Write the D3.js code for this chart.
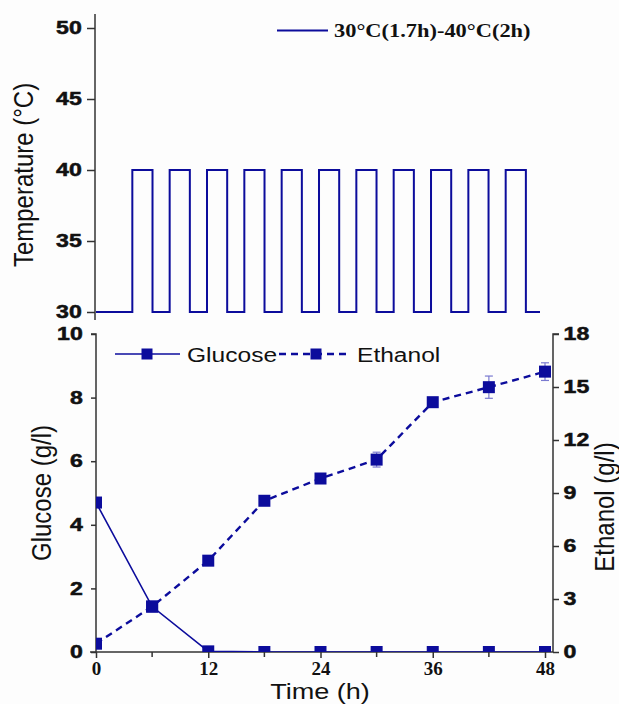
<!DOCTYPE html>
<html><head><meta charset="utf-8">
<script src="https://cdn.jsdelivr.net/npm/d3@7/dist/d3.min.js"></script>
<style>
html,body{margin:0;padding:0;background:#fdfdfd;}
svg{display:block;}
</style></head>
<body>
<svg id="chart" width="619" height="704"></svg>
<script>
// ---------- DATA ----------
const times = [0, 6, 12, 18, 24, 30, 36, 42, 48];
const glucose = [4.70, 1.43, 0.02, 0, 0, 0, 0, 0, 0];
const ethanol = [0.47, 2.57, 5.17, 8.56, 9.82, 10.89, 14.14, 14.99, 15.87];
const ethanolErr = [0.08, 0.08, 0.1, 0.1, 0.12, 0.42, 0.15, 0.63, 0.5];
const xTicks = [0, 12, 24, 36, 48];
const xMinorTicks = [6, 18, 30, 42];
const glucoseTicks = [0, 2, 4, 6, 8, 10];
const ethanolTicks = [0, 3, 6, 9, 12, 15, 18];
const tempTicks = [30, 35, 40, 45, 50];
// temperature program: switch times (h)
const tempUp   = [3.6, 7.3, 11.0, 14.7, 18.4, 22.1, 25.8, 29.5, 33.2, 36.9, 40.6];
const tempDown = [5.6, 9.3, 13.0, 16.7, 20.4, 24.1, 27.8, 31.5, 35.2, 38.9, 42.6];
const tempStart = 0, tempEnd = 44.0, tempLow = 30, tempHigh = 40;
const tempLegend = "30°C(1.7h)-40°C(2h)";
const seriesNames = ["Glucose", "Ethanol"];

// ---------- SETUP ----------
const svg = d3.select("#chart");
const blue = "#0c0c9c";
const axisColor = "#333";
const sansFont = "'Liberation Sans', Arial, sans-serif";

// temperature path points built from the listed switch times
const tempPts = [[tempStart, tempLow]];
tempUp.forEach((u, i) => {
  tempPts.push([u, tempLow], [u, tempHigh], [tempDown[i], tempHigh], [tempDown[i], tempLow]);
});
tempPts.push([tempEnd, tempLow]);

function boldTicks(sel) {
  sel.attr("font-family", sansFont).attr("font-weight", "bold").attr("font-size", 17.5)
    .attr("fill", "#111").attr("stroke", "#111").attr("stroke-width", 0.5)
    .attr("transform", "scale(1.32,1)");
}

// ---------- TOP PANEL ----------
const xT = d3.scaleLinear().domain([0, 44]).range([96, 540]);
const yT = d3.scaleLinear().domain([30, 50]).range([312, 28]);

const gTop = svg.append("g");
const axT = gTop.append("g").attr("transform", "translate(95,0)")
  .call(d3.axisLeft(yT).tickValues(tempTicks).tickSize(8).tickPadding(2));
axT.select(".domain").attr("d", "M0,14V320");
axT.selectAll("path,line").attr("stroke", axisColor).attr("stroke-width", 1.5);
boldTicks(axT.selectAll("text"));

gTop.append("path").datum(tempPts)
  .attr("d", d3.line().x(d => xT(d[0])).y(d => yT(d[1])))
  .attr("fill", "none").attr("stroke", blue).attr("stroke-width", 2);

// top legend
gTop.append("line").attr("x1", 277).attr("x2", 328).attr("y1", 30.5).attr("y2", 30.5)
  .attr("stroke", blue).attr("stroke-width", 2);
gTop.append("text").attr("transform", "translate(334,37) scale(1.18,1)")
  .attr("font-family", "'Liberation Serif','Times New Roman',serif").attr("font-weight", "bold")
  .attr("font-size", 19).attr("fill", "#111").text(tempLegend);

gTop.append("text").attr("transform", "translate(33,175) scale(1.17,1) rotate(-90)")
  .attr("text-anchor", "middle").attr("font-family", sansFont)
  .attr("font-size", 24).attr("fill", "#111").text("Temperature (°C)");

// ---------- BOTTOM PANEL ----------
const x = d3.scaleLinear().domain([0, 48]).range([96, 545]);
const yG = d3.scaleLinear().domain([0, 10]).range([652, 334]);
const yE = d3.scaleLinear().domain([0, 18]).range([652, 334]);

const gB = svg.append("g");
svg.append("defs").append("clipPath").attr("id", "plotClip")
  .append("rect").attr("x", 96).attr("y", 326).attr("width", 457).attr("height", 326);

// left axis
const axL = gB.append("g").attr("transform", "translate(96,0)")
  .call(d3.axisLeft(yG).tickValues(glucoseTicks).tickSize(5).tickPadding(5));
axL.select(".domain").attr("d", "M-5,334H0V652");
// right axis
const axR = gB.append("g").attr("transform", "translate(553,0)")
  .call(d3.axisRight(yE).tickValues(ethanolTicks).tickSize(6).tickPadding(2));
axR.select(".domain").attr("d", "M6,334H0V652");
[axL, axR].forEach(a => {
  a.selectAll("path,line").attr("stroke", axisColor).attr("stroke-width", 1.5);
  boldTicks(a.selectAll("text"));
});
// bottom axis
const axX = gB.append("g").attr("transform", "translate(0,652)")
  .call(d3.axisBottom(x).tickValues(xTicks).tickSize(6).tickPadding(4));
axX.select(".domain").attr("d", "M90,0H553");
axX.selectAll("path,line").attr("stroke", axisColor).attr("stroke-width", 1.5);
axX.selectAll("text").attr("font-family", "'Liberation Serif','Times New Roman',serif")
  .attr("font-weight", "bold").attr("font-size", 19).attr("fill", "#111");
gB.append("g").selectAll("line").data(xMinorTicks).join("line")
  .attr("x1", d => x(d)).attr("x2", d => x(d)).attr("y1", 652).attr("y2", 657)
  .attr("stroke", axisColor).attr("stroke-width", 1.5);

// axis titles
gB.append("text").attr("transform", "translate(320,699) scale(1.23,1)")
  .attr("text-anchor", "middle").attr("font-family", sansFont)
  .attr("font-size", 22).attr("fill", "#111").text("Time (h)");
gB.append("text").attr("transform", "translate(51,493) scale(1.17,1) rotate(-90)")
  .attr("text-anchor", "middle").attr("font-family", sansFont)
  .attr("font-size", 24).attr("fill", "#111").text("Glucose (g/l)");
gB.append("text").attr("transform", "translate(614,507) scale(1.17,1) rotate(-90)")
  .attr("text-anchor", "middle").attr("font-family", sansFont)
  .attr("font-size", 24).attr("fill", "#111").text("Ethanol (g/l)");

// data
const plot = gB.append("g").attr("clip-path", "url(#plotClip)");
const gData = times.map((t, i) => ({t, v: glucose[i]}));
const eData = times.map((t, i) => ({t, v: ethanol[i], e: ethanolErr[i]}));

plot.append("path").datum(gData)
  .attr("d", d3.line().x(d => x(d.t)).y(d => yG(d.v)))
  .attr("fill", "none").attr("stroke", blue).attr("stroke-width", 1.6);
plot.append("path").datum(eData)
  .attr("d", d3.line().x(d => x(d.t)).y(d => yE(d.v)))
  .attr("fill", "none").attr("stroke", blue).attr("stroke-width", 2.4)
  .attr("stroke-dasharray", "7,5");

// error bars
const eb = plot.append("g").attr("stroke", "#7a7ad0").attr("stroke-width", 1.2);
eData.forEach(d => {
  eb.append("line").attr("x1", x(d.t)).attr("x2", x(d.t)).attr("y1", yE(d.v - d.e)).attr("y2", yE(d.v + d.e));
  eb.append("line").attr("x1", x(d.t) - 4).attr("x2", x(d.t) + 4).attr("y1", yE(d.v - d.e)).attr("y2", yE(d.v - d.e));
  eb.append("line").attr("x1", x(d.t) - 4).attr("x2", x(d.t) + 4).attr("y1", yE(d.v + d.e)).attr("y2", yE(d.v + d.e));
});

const ms = 12;
plot.append("g").selectAll("rect").data(gData).join("rect")
  .attr("x", d => x(d.t) - ms / 2).attr("y", d => yG(d.v) - ms / 2)
  .attr("width", ms).attr("height", ms).attr("fill", blue);
plot.append("g").selectAll("rect").data(eData).join("rect")
  .attr("x", d => x(d.t) - ms / 2).attr("y", d => yE(d.v) - ms / 2)
  .attr("width", ms).attr("height", ms).attr("fill", blue);

// legend
const lg = gB.append("g");
lg.append("line").attr("x1", 115).attr("x2", 180).attr("y1", 354).attr("y2", 354)
  .attr("stroke", blue).attr("stroke-width", 1.6);
lg.append("rect").attr("x", 147 - 5.5).attr("y", 354 - 5.5).attr("width", 11).attr("height", 11).attr("fill", blue);
lg.append("text").attr("transform", "translate(187,362) scale(1.17,1)")
  .attr("font-family", sansFont).attr("font-size", 21)
  .attr("fill", "#111").text(seriesNames[0]);
lg.append("line").attr("x1", 279).attr("x2", 350).attr("y1", 354).attr("y2", 354)
  .attr("stroke", blue).attr("stroke-width", 2.4).attr("stroke-dasharray", "7,5");
lg.append("rect").attr("x", 316 - 5.5).attr("y", 354 - 5.5).attr("width", 11).attr("height", 11).attr("fill", blue);
lg.append("text").attr("transform", "translate(357,362) scale(1.17,1)")
  .attr("font-family", sansFont).attr("font-size", 21)
  .attr("fill", "#111").text(seriesNames[1]);
</script>
</body></html>
